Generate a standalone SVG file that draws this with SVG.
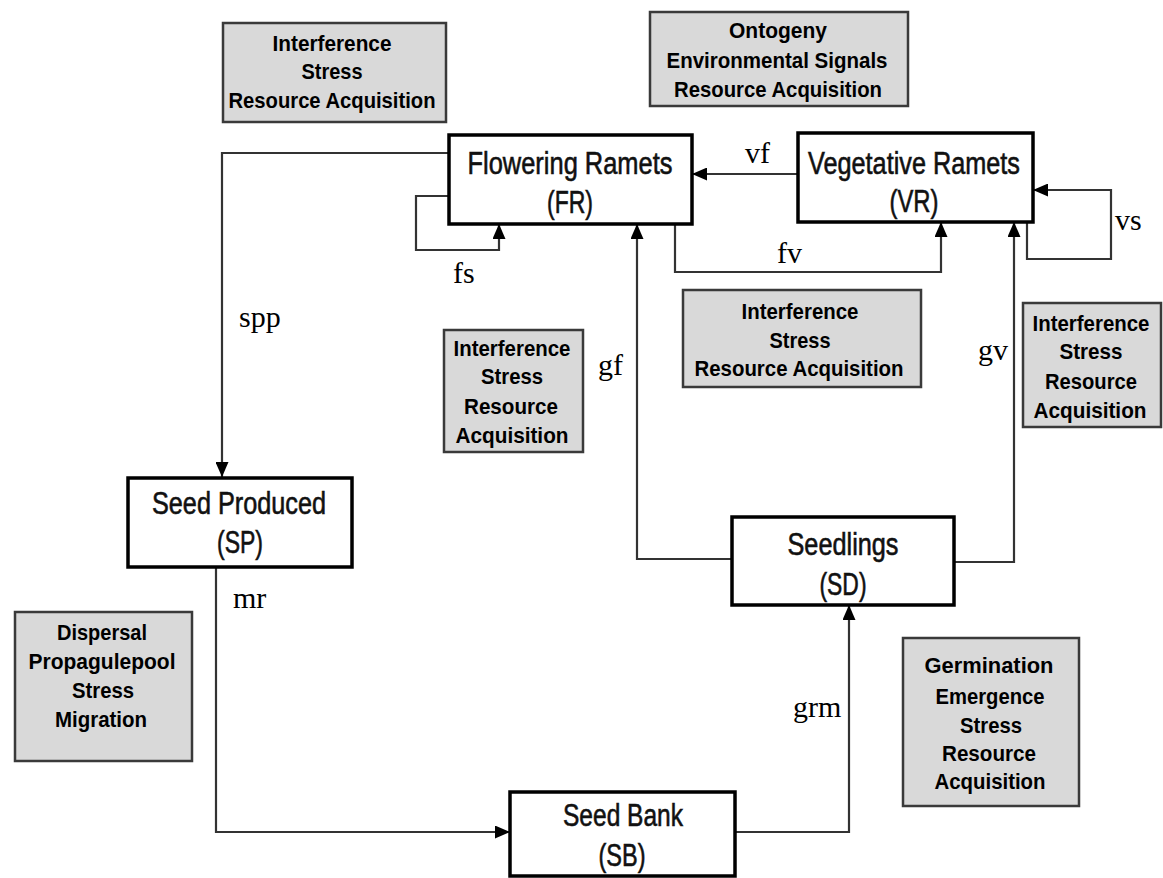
<svg xmlns="http://www.w3.org/2000/svg" width="1163" height="878" viewBox="0 0 1163 878">
<style>
.node rect{fill:#fff;stroke:#000;stroke-width:3.5}
.nt{font-family:"Liberation Sans",Arial,sans-serif;font-size:31px;fill:#111;stroke:#111;stroke-width:0.6;text-anchor:middle}
.info rect{fill:#d9d9d9;stroke:#3a3a3a;stroke-width:2.5}
.it{font-family:"Liberation Sans",Arial,sans-serif;font-size:22px;font-weight:bold;fill:#000;text-anchor:middle}
.lbl{font-family:"Liberation Serif","Times New Roman",serif;font-size:30px;fill:#000}
#connectors path{fill:none;stroke:#333;stroke-width:2.2}
</style>
<defs>
<marker id="ah" markerUnits="userSpaceOnUse" markerWidth="15" markerHeight="13" refX="15" refY="6.5" orient="auto">
<path d="M0,0 L15,6.5 L0,13 z" fill="#000"/>
</marker>
</defs>
<rect width="1163" height="878" fill="#fff"/>

<g id="connectors">
<path d="M448,153 H222 V477" marker-end="url(#ah)"/>
<path d="M798,174 H692" marker-end="url(#ah)"/>
<path d="M449,196 H416 V250 H499 V224" marker-end="url(#ah)"/>
<path d="M675,224 V272 H941 V222" marker-end="url(#ah)"/>
<path d="M1027,222 V259 H1111 V190 H1033" marker-end="url(#ah)"/>
<path d="M732,559 H637 V224" marker-end="url(#ah)"/>
<path d="M954,562 H1014 V222" marker-end="url(#ah)"/>
<path d="M216,567 V832 H510" marker-end="url(#ah)"/>
<path d="M735,832 H849 V605" marker-end="url(#ah)"/>
<text class="lbl" x="239" y="327">spp</text>
<text class="lbl" x="745" y="163">vf</text>
<text class="lbl" x="777" y="263">fv</text>
<text class="lbl" x="453" y="283">fs</text>
<text class="lbl" x="1115" y="230">vs</text>
<text class="lbl" x="598" y="375">gf</text>
<text class="lbl" x="978" y="360">gv</text>
<text class="lbl" x="233" y="608">mr</text>
<text class="lbl" x="793" y="717">grm</text>
</g>

<g id="FR" class="node">
<rect x="449" y="135" width="243" height="89"/>
<text class="nt" x="570" y="174" textLength="205" lengthAdjust="spacingAndGlyphs">Flowering Ramets</text>
<text class="nt" x="570" y="213" textLength="46" lengthAdjust="spacingAndGlyphs">(FR)</text>
</g>
<g id="VR" class="node">
<rect x="798" y="133" width="235" height="89"/>
<text class="nt" x="914" y="174" textLength="212" lengthAdjust="spacingAndGlyphs">Vegetative Ramets</text>
<text class="nt" x="914" y="212" textLength="49" lengthAdjust="spacingAndGlyphs">(VR)</text>
</g>
<g id="SP" class="node">
<rect x="128" y="478" width="224" height="89"/>
<text class="nt" x="239" y="514" textLength="174" lengthAdjust="spacingAndGlyphs">Seed Produced</text>
<text class="nt" x="240" y="553" textLength="46" lengthAdjust="spacingAndGlyphs">(SP)</text>
</g>
<g id="SD" class="node">
<rect x="732" y="517" width="222" height="88"/>
<text class="nt" x="843" y="555" textLength="111" lengthAdjust="spacingAndGlyphs">Seedlings</text>
<text class="nt" x="843" y="595" textLength="47" lengthAdjust="spacingAndGlyphs">(SD)</text>
</g>
<g id="SB" class="node">
<rect x="510" y="792" width="225" height="84"/>
<text class="nt" x="623" y="826" textLength="120" lengthAdjust="spacingAndGlyphs">Seed Bank</text>
<text class="nt" x="622" y="866" textLength="47" lengthAdjust="spacingAndGlyphs">(SB)</text>
</g>

<g id="info-FR" class="info">
<rect x="223" y="23" width="223" height="99"/>
<text class="it" x="332" y="51" textLength="119" lengthAdjust="spacingAndGlyphs">Interference</text>
<text class="it" x="332" y="79" textLength="61" lengthAdjust="spacingAndGlyphs">Stress</text>
<text class="it" x="332" y="108" textLength="207" lengthAdjust="spacingAndGlyphs">Resource Acquisition</text>
</g>
<g id="info-VR" class="info">
<rect x="650" y="12" width="258" height="94"/>
<text class="it" x="778" y="38" textLength="98" lengthAdjust="spacingAndGlyphs">Ontogeny</text>
<text class="it" x="777" y="68" textLength="221" lengthAdjust="spacingAndGlyphs">Environmental Signals</text>
<text class="it" x="778" y="97" textLength="208" lengthAdjust="spacingAndGlyphs">Resource Acquisition</text>
</g>
<g id="info-fv" class="info">
<rect x="683" y="290" width="238" height="97"/>
<text class="it" x="800" y="319" textLength="117" lengthAdjust="spacingAndGlyphs">Interference</text>
<text class="it" x="800" y="348" textLength="61" lengthAdjust="spacingAndGlyphs">Stress</text>
<text class="it" x="799" y="376" textLength="209" lengthAdjust="spacingAndGlyphs">Resource Acquisition</text>
</g>
<g id="info-gf" class="info">
<rect x="444" y="330" width="139" height="122"/>
<text class="it" x="512" y="356" textLength="117" lengthAdjust="spacingAndGlyphs">Interference</text>
<text class="it" x="512" y="384" textLength="62" lengthAdjust="spacingAndGlyphs">Stress</text>
<text class="it" x="511" y="414" textLength="94" lengthAdjust="spacingAndGlyphs">Resource</text>
<text class="it" x="512" y="443" textLength="113" lengthAdjust="spacingAndGlyphs">Acquisition</text>
</g>
<g id="info-gv" class="info">
<rect x="1023" y="303" width="138" height="124"/>
<text class="it" x="1091" y="331" textLength="117" lengthAdjust="spacingAndGlyphs">Interference</text>
<text class="it" x="1091" y="359" textLength="63" lengthAdjust="spacingAndGlyphs">Stress</text>
<text class="it" x="1091" y="389" textLength="92" lengthAdjust="spacingAndGlyphs">Resource</text>
<text class="it" x="1090" y="418" textLength="113" lengthAdjust="spacingAndGlyphs">Acquisition</text>
</g>
<g id="info-mr" class="info">
<rect x="15" y="612" width="177" height="149"/>
<text class="it" x="102" y="640" textLength="90" lengthAdjust="spacingAndGlyphs">Dispersal</text>
<text class="it" x="102" y="669" textLength="147" lengthAdjust="spacingAndGlyphs">Propagulepool</text>
<text class="it" x="103" y="698" textLength="62" lengthAdjust="spacingAndGlyphs">Stress</text>
<text class="it" x="101" y="727" textLength="92" lengthAdjust="spacingAndGlyphs">Migration</text>
</g>
<g id="info-grm" class="info">
<rect x="903" y="638" width="176" height="168"/>
<text class="it" x="989" y="673" textLength="129" lengthAdjust="spacingAndGlyphs">Germination</text>
<text class="it" x="990" y="704" textLength="109" lengthAdjust="spacingAndGlyphs">Emergence</text>
<text class="it" x="991" y="733" textLength="62" lengthAdjust="spacingAndGlyphs">Stress</text>
<text class="it" x="989" y="761" textLength="94" lengthAdjust="spacingAndGlyphs">Resource</text>
<text class="it" x="990" y="789" textLength="111" lengthAdjust="spacingAndGlyphs">Acquisition</text>
</g>
</svg>
